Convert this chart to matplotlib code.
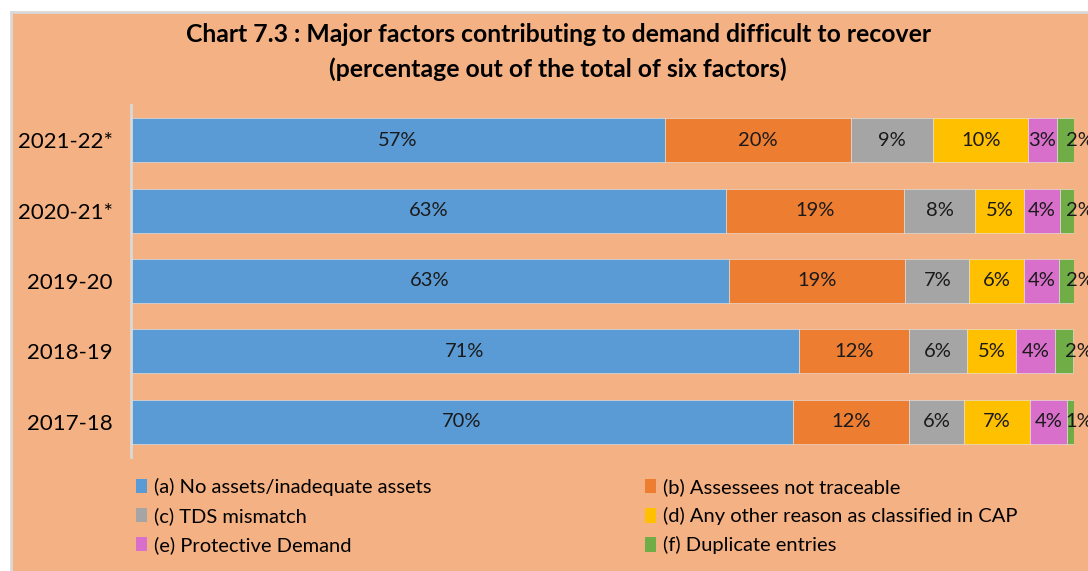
import matplotlib
matplotlib.use("Agg")
import matplotlib.pyplot as plt
from matplotlib.patches import Rectangle, Patch
from matplotlib.lines import Line2D
import numpy as np

plt.rcParams['font.family'] = ['Lato', 'DejaVu Sans']

years = ["2021-22*", "2020-21*", "2019-20", "2018-19", "2017-18"]
factors = ["(a) No assets/inadequate assets",
           "(b) Assessees not traceable",
           "(c) TDS mismatch",
           "(d) Any other reason as classified in CAP",
           "(e) Protective Demand",
           "(f) Duplicate entries"]
no_assets      = [56.6, 63.1, 63.4, 70.8, 70.2]
not_traceable  = [19.7, 18.9, 18.7, 11.7, 12.3]
tds_mismatch   = [8.8, 7.5, 6.8, 6.2, 5.8]
other_reason   = [10.0, 5.2, 5.8, 5.1, 7.0]
protective     = [3.1, 3.8, 3.7, 4.2, 4.0]
duplicate      = [1.8, 1.5, 1.6, 1.9, 0.7]
series = [no_assets, not_traceable, tds_mismatch, other_reason, protective, duplicate]
colors = ["#5B9BD5", "#ED7D31", "#A5A5A5", "#FFC000", "#D86FCB", "#70AD47"]
bg = "#F4B183"

W, H = 1088, 571
fig = plt.figure(figsize=(W / 100, H / 100), dpi=100)
fig.patch.set_facecolor("white")
# chart area panel with light grey border on left/top
fig.patches.append(Rectangle((12 / W, 0), 1, 1 - 13 / H, transform=fig.transFigure,
                             facecolor=bg, edgecolor="none", zorder=-5))
fig.add_artist(Line2D([11 / W, 11 / W], [0, 1 - 11.5 / H], transform=fig.transFigure,
                      color="#D9D9D9", lw=2, zorder=-4))
fig.add_artist(Line2D([11 / W, 1], [1 - 11.5 / H, 1 - 11.5 / H], transform=fig.transFigure,
                      color="#D9D9D9", lw=2, zorder=-4))

ax = fig.add_axes([131 / W, 1 - 457 / H, 943 / W, 352 / H])
ax.set_zorder(2)
ax.set_facecolor("none")
y = np.arange(len(years))[::-1]
left = np.zeros(len(years))
for vals, col, name in zip(series, colors, factors):
    vals = np.array(vals)
    ax.barh(y, vals, left=left, height=0.625, color=col, edgecolor="#E8E8E8",
            linewidth=0.4, label=name)
    for yi, l, v in zip(y, left, vals):
        if v >= 2.5:
            ax.text(l + v / 2, yi, f"{round(v):.0f}%", ha="center", va="center",
                    fontsize=14.5, color="#1a1a1a")
        else:
            ax.annotate(f"{round(v):.0f}%", xy=(l + v, yi), xytext=(-6, 0),
                        textcoords="offset points", ha="left", va="center",
                        fontsize=14.5, color="#1a1a1a", annotation_clip=False)
    left += vals

ax.set_xlim(0, 100)
ax.set_ylim(-0.5, len(years) - 0.5)
ax.set_yticks(y)
ax.set_yticklabels(years, fontsize=16)
ax.tick_params(axis="y", length=0, pad=13)
ax.set_xticks([])
for s in ["top", "right", "bottom"]:
    ax.spines[s].set_visible(False)
ax.spines["left"].set_color("#D9D9D9")
ax.spines["left"].set_linewidth(2)

fig.text(558 / W, 1 - 34 / H, "Chart 7.3 : Major factors contributing to demand difficult to recover",
         ha="center", va="center", fontsize=17.8, fontweight="bold")
fig.text(558 / W, 1 - 69 / H, "(percentage out of the total of six factors)",
         ha="center", va="center", fontsize=17.8, fontweight="bold")

handles = [Patch(facecolor=c) for c in colors]
order = [0, 2, 4, 1, 3, 5]
leg = fig.legend([handles[i] for i in order], [factors[i] for i in order],
                 ncol=2, loc="upper left", bbox_to_anchor=(136 / W, 1 - 478 / H),
                 frameon=False, fontsize=14.5, handlelength=0.55, handleheight=0.75,
                 handletextpad=0.35, labelspacing=0.55, columnspacing=10.6,
                 borderaxespad=0, borderpad=0)

fig.savefig("out.png", dpi=100, facecolor=fig.get_facecolor())
